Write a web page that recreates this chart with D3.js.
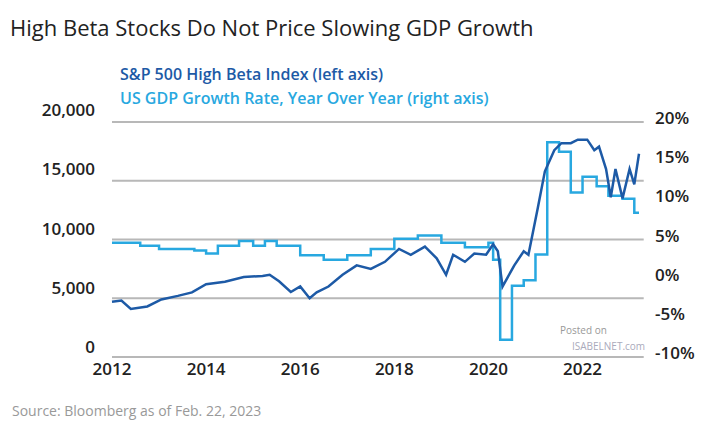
<!DOCTYPE html><html><head><meta charset="utf-8"><script src="https://cdn.jsdelivr.net/npm/d3@7"></script>
<style>body{margin:0;background:#fff}text{font-family:"Open Sans",sans-serif}</style></head><body><svg id="c" width="720" height="432"></svg>
<script>
const betaYears=[2012.0,2012.2,2012.4,2012.75,2013.05,2013.4,2013.7,2014.0,2014.4,2014.8,2015.2,2015.35,2015.55,2015.8,2016.0,2016.2,2016.35,2016.6,2016.9,2017.2,2017.5,2017.8,2018.1,2018.35,2018.65,2018.9,2019.1,2019.25,2019.5,2019.7,2019.95,2020.1,2020.2,2020.3,2020.55,2020.75,2020.85,2021.05,2021.2,2021.4,2021.55,2021.75,2021.9,2022.1,2022.25,2022.35,2022.5,2022.6,2022.7,2022.85,2023.0,2023.1,2023.2];
const betaValues=[4700,4800,4090,4300,4900,5200,5500,6200,6400,6800,6900,7000,6440,5530,6000,5000,5500,6000,7000,7800,7500,8100,9200,8700,9400,8400,7000,8700,8100,8800,8700,9600,9000,6000,7800,9000,8700,12700,15800,17600,18200,18200,18500,18500,17600,17900,16000,13600,16000,13500,16000,14700,17300];
const gdpYears=[2012.0,2012.6,2013.0,2013.75,2014.0,2014.25,2014.7,2015.0,2015.25,2015.5,2016.0,2016.5,2017.0,2017.5,2018.0,2018.5,2019.0,2019.5,2020.0,2020.1,2020.25,2020.5,2020.75,2021.0,2021.25,2021.5,2021.75,2022.0,2022.3,2022.55,2022.85,2023.1,2023.2];
const gdpValues=[4.6,4.2,3.8,3.6,3.2,4.2,4.8,4.2,4.8,4.2,3.0,2.4,3.0,3.8,5.1,5.5,4.6,4.0,4.6,2.4,-7.8,-0.9,-0.2,3.1,17.4,16.2,11.0,13.0,11.8,10.6,10.2,8.4,8.4];
const leftTicks=[0,5000,10000,15000,20000];
const rightTicks=[-10,-5,0,5,10,15,20];
const xTicks=[2012,2014,2016,2018,2020,2022];
const svg=d3.select("#c");
const x=d3.scaleLinear().domain([2012,2023.2]).range([112,639]);
const yL=d3.scaleLinear().domain([0,20000]).range([357,122]);
const yR=d3.scaleLinear().domain([-10,20]).range([357,122]);
svg.append("text").attr("x",10).attr("y",36).attr("font-size",22).attr("font-weight",500).attr("fill","#222").text("High Beta Stocks Do Not Price Slowing GDP Growth");
svg.append("text").attr("x",120).attr("y",80).attr("font-size",16).attr("font-weight",600).attr("fill","#1d5aa6").text("S&P 500 High Beta Index (left axis)");
svg.append("text").attr("x",120).attr("y",104).attr("font-size",16).attr("font-weight",600).attr("fill","#28a8e0").text("US GDP Growth Rate, Year Over Year (right axis)");
svg.append("g").selectAll("rect").data(leftTicks).join("rect").attr("x",x(2012)).attr("width",x(2023.3)-x(2012)).attr("y",d=>yL(d)-1).attr("height",2).attr("fill","#b8b8b8");
svg.append("g").selectAll("text").data(leftTicks).join("text").attr("x",95).attr("y",d=>yL(d)-d/20000*2-4).attr("text-anchor","end").attr("font-size",17).attr("font-weight",600).attr("fill","#222").text(d=>d3.format(",")(d));
svg.append("g").selectAll("text").data(rightTicks).join("text").attr("x",655).attr("y",d=>yR(d)+2).attr("font-size",17).attr("font-weight",600).attr("fill","#222").text(d=>d+"%");
svg.append("g").selectAll("text").data(xTicks).join("text").attr("x",d=>x(d)).attr("y",375).attr("text-anchor","middle").attr("font-size",17).attr("font-weight",600).attr("fill","#222").text(d=>d);
svg.append("path").datum(gdpYears.map((d,i)=>[d,gdpValues[i]])).attr("fill","none").attr("stroke","#28a8e0").attr("stroke-width",2.5)
 .attr("d",d3.line().x(d=>x(d[0])).y(d=>yR(d[1])).curve(d3.curveStepAfter));
svg.append("path").datum(betaYears.map((d,i)=>[d,betaValues[i]])).attr("fill","none").attr("stroke","#1d5aa6").attr("stroke-width",2.5)
 .attr("d",d3.line().x(d=>x(d[0])).y(d=>yL(d[1])));
svg.append("text").attr("x",560).attr("y",334).attr("font-size",10).attr("fill","#999").text("Posted on");
svg.append("text").attr("x",572).attr("y",350).attr("font-size",10).attr("fill","#aab").text("ISABELNET.com");
svg.append("text").attr("x",12).attr("y",416).attr("font-size",14).attr("fill","#999").text("Source: Bloomberg as of Feb. 22, 2023");
</script></body></html>
